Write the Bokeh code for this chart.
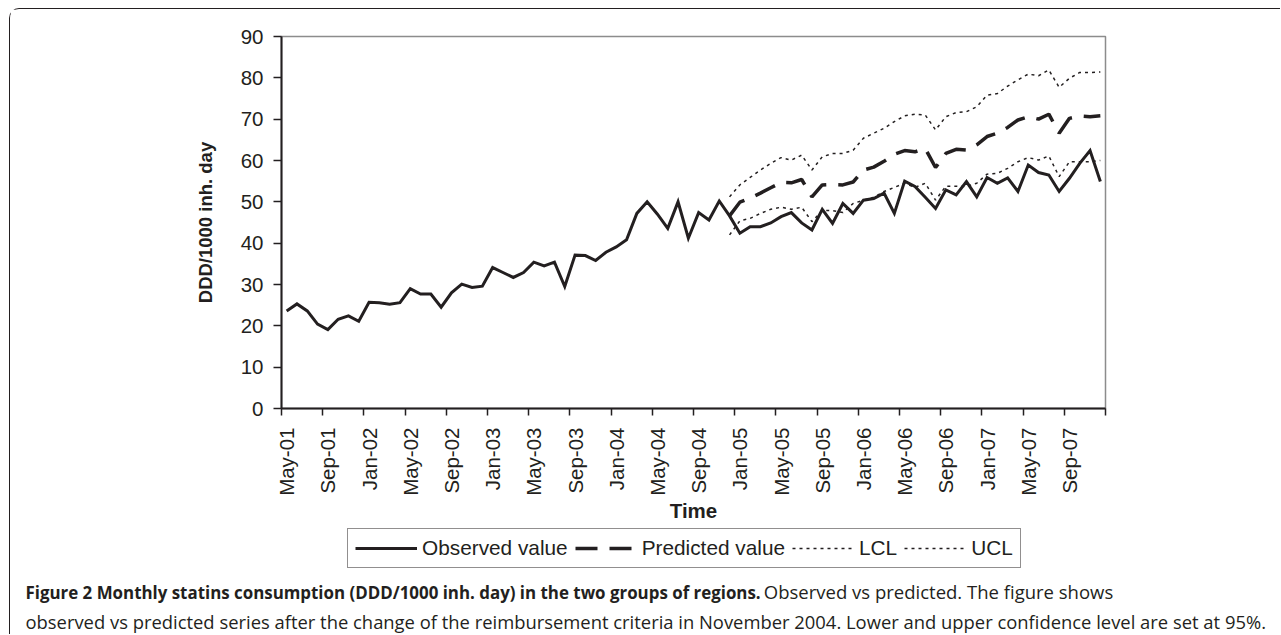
import math
from bokeh.plotting import figure
from bokeh.layouts import column
from bokeh.models import FixedTicker, Legend, LegendItem, Div
from bokeh.embed import file_html
from bokeh.resources import INLINE

# ---------------- data ----------------
tick_labels = ["May-01", "Sep-01", "Jan-02", "May-02", "Sep-02", "Jan-03", "May-03",
               "Sep-03", "Jan-04", "May-04", "Sep-04", "Jan-05", "May-05", "Sep-05",
               "Jan-06", "May-06", "Sep-06", "Jan-07", "May-07", "Sep-07"]

observed = [23.6, 25.3, 23.6, 20.4, 19.1, 21.6, 22.4, 21.1, 25.7, 25.6,
            25.2, 25.6, 29.0, 27.7, 27.7, 24.5, 28.0, 30.1, 29.3, 29.6,
            34.1, 32.9, 31.7, 32.9, 35.4, 34.5, 35.4, 29.5, 37.1, 37.0,
            35.8, 37.8, 39.1, 40.8, 47.2, 50.0, 47.0, 43.6, 50.0, 41.2,
            47.4, 45.6, 50.2, 46.6, 42.4, 44.0, 44.0, 44.9, 46.4, 47.4,
            44.9, 43.2, 48.2, 44.8, 49.6, 47.2, 50.4, 50.8, 52.1, 47.2,
            55.0, 53.7, 51.1, 48.4, 52.9, 51.7, 54.9, 51.2, 55.9, 54.5,
            55.8, 52.5, 58.9, 57.1, 56.5, 52.5, 55.7, 59.3, 62.4, 54.9]

forecast_start = 43  # Nov-04
predicted = [46.6, 49.9, 50.9, 52.1, 53.4, 54.7, 54.6, 55.4, 51.2, 54.1,
             54.2, 54.1, 54.8, 57.7, 58.4, 59.8, 61.5, 62.4, 62.1, 62.9,
             58.3, 61.7, 62.7, 62.5, 63.8, 65.8, 66.6, 68.0, 69.8, 70.6,
             70.0, 71.2, 66.6, 70.2, 70.8, 70.6, 70.8]
lcl = [42.0, 45.4, 46.0, 47.2, 48.2, 48.7, 48.2, 48.7, 45.2, 47.9,
       47.9, 47.4, 49.6, 50.4, 51.1, 52.5, 53.5, 54.5, 53.5, 54.5,
       50.4, 53.8, 53.8, 53.7, 54.5, 56.7, 56.9, 58.1, 59.7, 60.7,
       60.1, 61.1, 56.1, 59.7, 59.7, 59.7, 60.0]
ucl = [51.2, 54.1, 55.9, 57.7, 59.3, 60.7, 60.1, 61.3, 57.7, 60.9,
       61.7, 61.7, 62.5, 65.4, 66.6, 67.8, 69.4, 70.8, 71.2, 71.0,
       67.4, 70.6, 71.6, 71.8, 73.0, 75.8, 76.2, 78.0, 79.5, 80.9,
       80.5, 81.9, 77.7, 79.9, 81.3, 81.3, 81.4]

y_ticks = [0, 10, 20, 30, 40, 50, 60, 70, 80, 90]
label_step = 4

series_names = ["Observed value", "Predicted value", "LCL", "UCL"]

caption_bold = "Figure 2 Monthly statins consumption (DDD/1000 inh. day) in the two groups of regions."
caption_rest1 = "Observed vs predicted. The figure shows"
caption_line2 = ("observed vs predicted series after the change of the reimbursement criteria "
                 "in November 2004. Lower and upper confidence level are set at 95%.")

x_obs = list(range(len(observed)))
x_fc = list(range(forecast_start, forecast_start + len(predicted)))

INK = "#231f20"
FONT = "Liberation Sans"
STYLES = [dict(line_width=3, line_join="miter"),
          dict(line_width=3.5, line_dash="22 12"),
          dict(line_width=1.5, line_dash="3 4"),
          dict(line_width=1.5, line_dash="3 4")]

W, H = 1270, 518
p = figure(width=W, height=H, output_backend="svg", toolbar_location=None,
           x_range=(-0.5, len(observed) - 0.5), y_range=(0, 90),
           min_border_left=271, min_border_right=W - 1095,
           min_border_top=27, min_border_bottom=H - 399)
p.xgrid.visible = False
p.ygrid.visible = False
p.background_fill_color = "white"
p.border_fill_color = "white"
p.outline_line_color = "#8c8c8c"
p.outline_line_width = 1.5

label_pos = list(range(0, len(observed), label_step))
p.xaxis.ticker = FixedTicker(ticks=label_pos,
                             minor_ticks=[i - 0.5 for i in range(0, len(observed) + 1, label_step)])
p.xaxis.major_label_overrides = {pos: lab for pos, lab in zip(label_pos, tick_labels)}
p.xaxis.major_label_orientation = math.pi / 2
p.xaxis.major_tick_out = 0
p.xaxis.major_tick_in = 0
p.xaxis.minor_tick_out = 7
p.xaxis.minor_tick_in = 0
p.xaxis.minor_tick_line_color = INK
p.xaxis.minor_tick_line_width = 1.5
p.xaxis.major_label_standoff = 12
p.xaxis.axis_label = "Time"
p.xaxis.axis_label_standoff = 0

p.yaxis.ticker = FixedTicker(ticks=y_ticks, minor_ticks=[])
p.yaxis.major_tick_out = 8
p.yaxis.major_tick_in = 0
p.yaxis.major_tick_line_color = INK
p.yaxis.major_tick_line_width = 1.5
p.yaxis.major_label_standoff = 10
p.yaxis.axis_label = "DDD/1000 inh. day"
p.yaxis.axis_label_standoff = 22

for ax in (p.xaxis, p.yaxis):
    ax.axis_line_color = INK
    ax.axis_line_width = 2
    ax.major_label_text_font = FONT
    ax.major_label_text_font_size = "20.5px"
    ax.major_label_text_color = INK
    ax.axis_label_text_font = FONT
    ax.axis_label_text_font_style = "bold"
    ax.axis_label_text_color = INK
p.xaxis.axis_label_text_font_size = "20.5px"
p.yaxis.axis_label_text_font_size = "18.5px"

xs = [x_obs, x_fc, x_fc, x_fc]
ys = [observed, predicted, lcl, ucl]
for xv, yv, st in zip(xs, ys, STYLES):
    p.line(xv, yv, line_color=INK, **st)

# ---- legend strip (own small figure so it is not clipped by the main frame) ----
LH = 51
pl = figure(width=W, height=LH, output_backend="svg", toolbar_location=None,
            x_range=(0, 1), y_range=(0, 1),
            min_border_left=0, min_border_right=0, min_border_top=0, min_border_bottom=0)
pl.axis.visible = False
pl.grid.visible = False
pl.outline_line_color = None
pl.background_fill_color = "white"
pl.border_fill_color = "white"
items = []
for name, xv, yv, st in zip(series_names, xs, ys, STYLES):
    r = pl.line(xv, yv, line_color=INK, visible=False, **st)
    items.append(LegendItem(label=name, renderers=[r]))
legend = Legend(items=items, orientation="horizontal", location=(66, 10.5),
                glyph_width=62, glyph_height=20, label_standoff=5, spacing=7,
                padding=7, margin=0, label_text_font=FONT,
                label_text_font_size="20.8px", label_text_color=INK,
                border_line_color=INK, border_line_width=1.5,
                background_fill_color="white", background_fill_alpha=1)
pl.add_layout(legend)

cap = Div(text=(f"<span style='font-weight:700;font-size:16.9px'>{caption_bold}</span> "
                f"<span style='font-size:18.5px'>{caption_rest1}</span><br>"
                f"<span style='font-size:18.4px'>{caption_line2}</span>"),
          width=W, height=56, margin=(0, 0, 0, 0),
          styles={"font-family": "'Open Sans', sans-serif",
                  "line-height": "27px", "color": INK, "padding-left": "15.5px",
                  "white-space": "nowrap", "background": "white"})

layout = column(p, pl, cap, spacing=0, margin=(8, 0, 0, 9),
                styles={"border-left": f"1.5px solid {INK}", "border-top": f"1.5px solid {INK}",
                        "border-top-left-radius": "10px", "background": "white"})

open("out.html", "w").write(file_html(layout, INLINE))
